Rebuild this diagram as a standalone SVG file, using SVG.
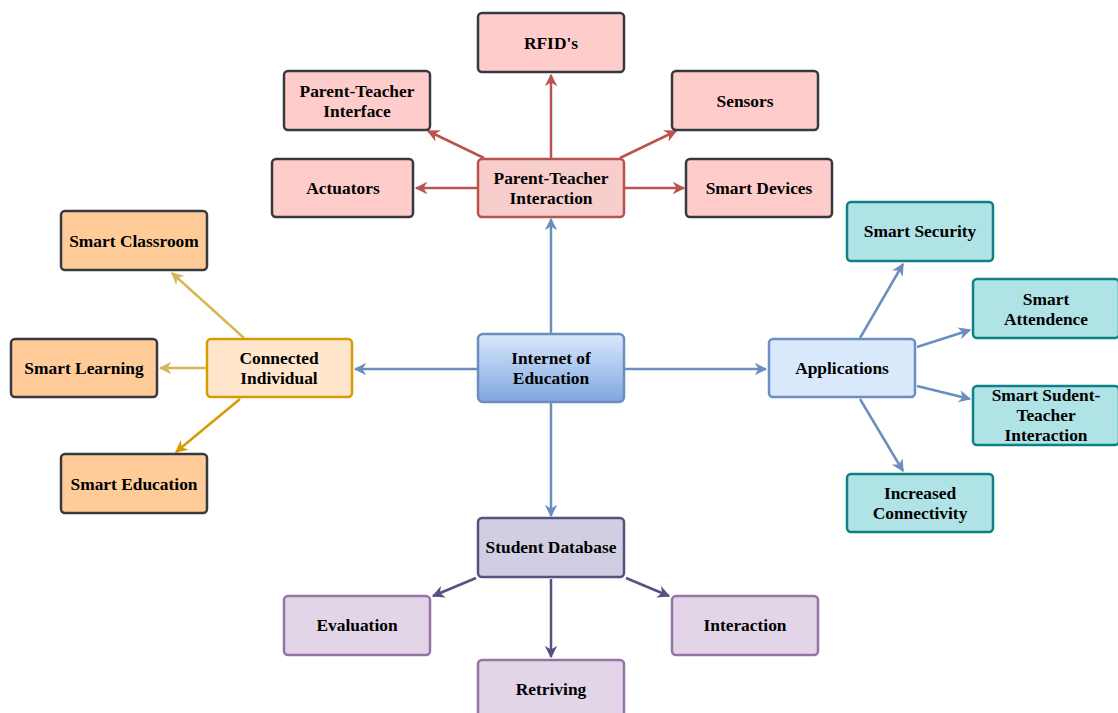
<svg xmlns="http://www.w3.org/2000/svg" width="1118" height="713" viewBox="0 0 1118 713">
  <style>
    text { font-family: "Liberation Serif", "Times New Roman", serif; font-weight: bold; font-size: 17.4px; fill: #000; text-anchor: middle; dominant-baseline: central; }
    rect { stroke-width: 2.5; }
    .leafR { fill: #ffcccc; stroke: #36393d; }
    .leafO { fill: #ffcc99; stroke: #36393d; }
    .leafT { fill: #b0e3e6; stroke: #0e8088; }
    .leafP { fill: #e1d5e7; stroke: #9673a6; }
    .hubR { fill: #f8cecc; stroke: #b85450; }
    .hubO { fill: #ffe6cc; stroke: #d79b00; }
    .hubB { fill: #dae8fc; stroke: #6c8ebf; }
    .hubP { fill: #d0cee2; stroke: #56517e; }
    .core { fill: url(#coreGrad); stroke: #6c8ebf; }
    .c { fill: none; stroke-width: 2.5; }
    .cB { stroke: #6c8ebf; marker-end: url(#aB); }
    .cR { stroke: #b85450; marker-end: url(#aR); }
    .cY { stroke: #d6b656; marker-end: url(#aY); }
    .cO { stroke: #d79b00; marker-end: url(#aO); }
    .cP { stroke: #56517e; marker-end: url(#aP); }
  </style>
  <defs>
    <linearGradient id="coreGrad" x1="0" y1="0" x2="0" y2="1">
      <stop offset="0" stop-color="#dae8fc"/>
      <stop offset="1" stop-color="#7ea6e0"/>
    </linearGradient>
    <marker id="aB" viewBox="0 0 10 10" refX="9" refY="5" markerWidth="5" markerHeight="5" orient="auto"><path d="M0,0 L10,5 L0,10 L3,5 z" fill="#6c8ebf"/></marker>
    <marker id="aR" viewBox="0 0 10 10" refX="9" refY="5" markerWidth="5" markerHeight="5" orient="auto"><path d="M0,0 L10,5 L0,10 L3,5 z" fill="#b85450"/></marker>
    <marker id="aY" viewBox="0 0 10 10" refX="9" refY="5" markerWidth="5" markerHeight="5" orient="auto"><path d="M0,0 L10,5 L0,10 L3,5 z" fill="#d6b656"/></marker>
    <marker id="aO" viewBox="0 0 10 10" refX="9" refY="5" markerWidth="5" markerHeight="5" orient="auto"><path d="M0,0 L10,5 L0,10 L3,5 z" fill="#d79b00"/></marker>
    <marker id="aP" viewBox="0 0 10 10" refX="9" refY="5" markerWidth="5" markerHeight="5" orient="auto"><path d="M0,0 L10,5 L0,10 L3,5 z" fill="#56517e"/></marker>
  </defs>

  <rect width="1118" height="713" fill="#ffffff" stroke="none"/>

  <g id="connectors">
    <!-- core to hubs -->
    <line class="c cB" x1="551" y1="333" x2="551" y2="219"/>
    <line class="c cB" x1="551" y1="403" x2="551" y2="516"/>
    <line class="c cB" x1="477" y1="369" x2="355" y2="369"/>
    <line class="c cB" x1="625" y1="369" x2="766" y2="369"/>
    <!-- parent-teacher interaction -->
    <line class="c cR" x1="551" y1="158" x2="551" y2="75"/>
    <line class="c cR" x1="484" y1="158" x2="428" y2="131"/>
    <line class="c cR" x1="620" y1="158" x2="676" y2="131"/>
    <line class="c cR" x1="477" y1="188" x2="416" y2="188"/>
    <line class="c cR" x1="625" y1="188" x2="684" y2="188"/>
    <!-- connected individual -->
    <line class="c cY" x1="244" y1="338" x2="172" y2="273"/>
    <line class="c cY" x1="206" y1="368" x2="160" y2="368"/>
    <line class="c cO" x1="240" y1="399" x2="176" y2="452"/>
    <!-- applications -->
    <line class="c cB" x1="860" y1="338" x2="903" y2="264"/>
    <line class="c cB" x1="917" y1="347" x2="970" y2="330"/>
    <line class="c cB" x1="917" y1="386" x2="970" y2="399"/>
    <line class="c cB" x1="860" y1="399" x2="903" y2="471"/>
    <!-- student database -->
    <line class="c cP" x1="476" y1="578" x2="433" y2="596"/>
    <line class="c cP" x1="551" y1="579" x2="551" y2="657"/>
    <line class="c cP" x1="626" y1="578" x2="669" y2="596"/>
  </g>

  <g id="rfid"><rect class="leafR" x="478" y="13" width="146" height="59" rx="4"/><text x="551" y="43">RFID's</text></g>
  <g id="pt-interface"><rect class="leafR" x="284" y="71" width="146" height="59" rx="4"/><text x="357" y="91">Parent-Teacher</text><text x="357" y="111">Interface</text></g>
  <g id="sensors"><rect class="leafR" x="672" y="71" width="146" height="59" rx="4"/><text x="745" y="101">Sensors</text></g>
  <g id="actuators"><rect class="leafR" x="272" y="159" width="141" height="58" rx="4"/><text x="343" y="188">Actuators</text></g>
  <g id="pt-interaction"><rect class="hubR" x="478" y="159" width="146" height="58" rx="4"/><text x="551" y="178">Parent-Teacher</text><text x="551" y="198">Interaction</text></g>
  <g id="smart-devices"><rect class="leafR" x="686" y="159" width="146" height="58" rx="4"/><text x="759" y="188">Smart Devices</text></g>

  <g id="smart-classroom"><rect class="leafO" x="61" y="211" width="146" height="59" rx="4"/><text x="134" y="241">Smart Classroom</text></g>
  <g id="smart-learning"><rect class="leafO" x="11" y="339" width="146" height="58" rx="4"/><text x="84" y="368">Smart Learning</text></g>
  <g id="connected-individual"><rect class="hubO" x="207" y="339" width="145" height="58" rx="4"/><text x="279" y="358">Connected</text><text x="279" y="378">Individual</text></g>
  <g id="smart-education"><rect class="leafO" x="61" y="454" width="146" height="59" rx="4"/><text x="134" y="484">Smart Education</text></g>

  <g id="internet-of-education"><rect class="core" x="478" y="334" width="146" height="68" rx="5"/><text x="551" y="358">Internet of</text><text x="551" y="378">Education</text></g>

  <g id="applications"><rect class="hubB" x="769" y="339" width="146" height="58" rx="4"/><text x="842" y="368">Applications</text></g>
  <g id="smart-security"><rect class="leafT" x="847" y="202" width="146" height="59" rx="4"/><text x="920" y="231">Smart Security</text></g>
  <g id="smart-attendence"><rect class="leafT" x="973" y="279" width="146" height="59" rx="4"/><text x="1046" y="299">Smart</text><text x="1046" y="319">Attendence</text></g>
  <g id="smart-student-teacher"><rect class="leafT" x="973" y="386" width="146" height="59" rx="4"/><text x="1046" y="395">Smart Sudent-</text><text x="1046" y="415">Teacher</text><text x="1046" y="435">Interaction</text></g>
  <g id="increased-connectivity"><rect class="leafT" x="847" y="474" width="146" height="58" rx="4"/><text x="920" y="493">Increased</text><text x="920" y="513">Connectivity</text></g>

  <g id="student-database"><rect class="hubP" x="478" y="518" width="146" height="59" rx="4"/><text x="551" y="547">Student Database</text></g>
  <g id="evaluation"><rect class="leafP" x="284" y="596" width="146" height="59" rx="4"/><text x="357" y="625">Evaluation</text></g>
  <g id="interaction"><rect class="leafP" x="672" y="596" width="146" height="59" rx="4"/><text x="745" y="625">Interaction</text></g>
  <g id="retriving"><rect class="leafP" x="478" y="660" width="146" height="60" rx="4"/><text x="551" y="689">Retriving</text></g>
</svg>
